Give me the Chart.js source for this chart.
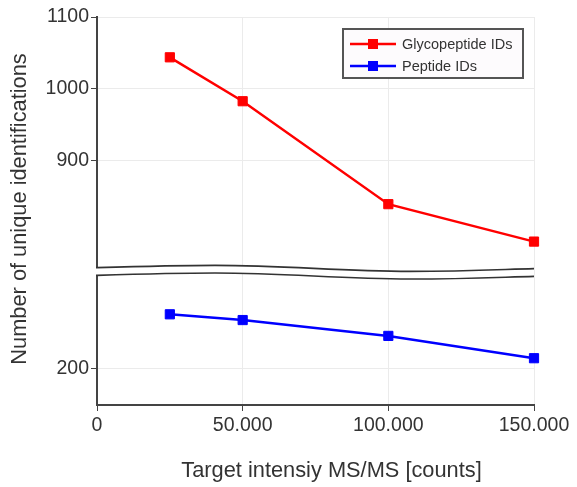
<!DOCTYPE html>
<html>
<head>
<meta charset="utf-8">
<script src="https://cdn.jsdelivr.net/npm/chart.js@4.4.1/dist/chart.umd.min.js"></script>
<style>
  body { margin: 0; background: #fff; }
  canvas { display: block; }
</style>
</head>
<body>
<canvas id="idsChart" width="577" height="487"></canvas>
<script>
// target intensity vs. number of identifications, broken y axis
const intensities = [25000, 50000, 100000, 150000];
const glycopeptideIds = [1044, 983, 840, 788];
const peptideIds = [275, 267, 245, 214];

const xTicks = [0, 50000, 100000, 150000];
const upperTicks = [900, 1000, 1100];
const lowerTicks = [200];

const seriesLabels = ['Glycopeptide IDs', 'Peptide IDs'];
const seriesColors = ['#ff0000', '#0000ff'];

const FONT = '"Liberation Sans", Arial, Helvetica, sans-serif';
const AXIS_COLOR = '#444';
const GRID_COLOR = '#ebebeb';
const TEXT_COLOR = '#333';

function formatThousands(v) {
    return String(v).replace(/\B(?=(\d{3})+(?!\d))/g, '.');
}

function toPoints(ys) {
    return intensities.map((x, i) => ({ x: x, y: ys[i] }));
}

function fixedTicks(values) {
    return function(scale) {
        scale.ticks = values.map(v => ({ value: v }));
    };
}

function yScale(min, max, weight, ticks) {
    return {
        type: 'linear',
        position: 'left',
        stack: 'ids',
        stackWeight: weight,
        min: min,
        max: max,
        afterBuildTicks: fixedTicks(ticks),
        afterFit: scale => { scale.width = 97; },
        grid: { color: GRID_COLOR, tickColor: AXIS_COLOR, tickLength: 6, lineWidth: 1 },
        border: { color: AXIS_COLOR, width: 2 },
        ticks: {
            color: TEXT_COLOR,
            padding: 2,
            font: { family: FONT, size: 19.5 },
            callback: v => String(v)
        }
    };
}

// wavy double line marking the axis break
function wavePath(ctx, left, right, y0, startX) {
    const w = right - left;
    ctx.moveTo(startX, y0 - 4.2);
    ctx.lineTo(left, y0 - 4.2);
    ctx.bezierCurveTo(left + w * 0.1, y0 - 5.5, left + w * 0.19, y0 - 6.5, left + w * 0.27, y0 - 6.5);
    ctx.bezierCurveTo(left + w * 0.44, y0 - 6.5, left + w * 0.55, y0 - 0.5, left + w * 0.717, y0 - 0.5);
    ctx.bezierCurveTo(left + w * 0.85, y0 - 0.5, left + w * 0.93, y0 - 2.5, right, y0 - 3.2);
}

const axisBreak = {
    id: 'axisBreak',
    afterDraw(chart) {
        const ctx = chart.ctx;
        const area = chart.chartArea;
        const y0 = chart.scales.yTop.bottom;
        ctx.save();
        ctx.lineCap = 'butt';
        // white band hiding the axis and grid between the two lines
        ctx.beginPath();
        wavePath(ctx, area.left, area.right, y0 + 3.85, area.left - 3);
        ctx.strokeStyle = '#fff';
        ctx.lineWidth = 7.4;
        ctx.stroke();
        ctx.strokeStyle = '#333';
        ctx.lineWidth = 1.6;
        ctx.beginPath();
        wavePath(ctx, area.left, area.right, y0, area.left - 1);
        ctx.stroke();
        ctx.beginPath();
        wavePath(ctx, area.left, area.right, y0 + 7.7, area.left - 1);
        ctx.stroke();
        ctx.restore();
    }
};

// axis titles and the boxed legend
const decorations = {
    id: 'decorations',
    afterDraw(chart) {
        const ctx = chart.ctx;
        const area = chart.chartArea;
        ctx.save();
        ctx.fillStyle = TEXT_COLOR;
        ctx.font = '21.8px ' + FONT;
        ctx.textAlign = 'center';
        ctx.textBaseline = 'middle';
        ctx.fillText('Target intensiy MS/MS [counts]', (area.left + area.right) / 2 + 16, 471);

        ctx.save();
        ctx.translate(20, (area.top + area.bottom) / 2 - 2);
        ctx.rotate(-Math.PI / 2);
        ctx.fillText('Number of unique identifications', 0, 0);
        ctx.restore();

        // legend
        const bx = 343, by = 29, bw = 180, bh = 49;
        ctx.fillStyle = '#fdfbfd';
        ctx.fillRect(bx, by, bw, bh);
        ctx.strokeStyle = '#555';
        ctx.lineWidth = 2;
        ctx.strokeRect(bx, by, bw, bh);

        ctx.font = '14.5px ' + FONT;
        ctx.textAlign = 'left';
        seriesLabels.forEach((label, i) => {
            const y = 44 + i * 22;
            ctx.strokeStyle = seriesColors[i];
            ctx.lineWidth = 2.5;
            ctx.beginPath();
            ctx.moveTo(350, y);
            ctx.lineTo(396, y);
            ctx.stroke();
            ctx.fillStyle = seriesColors[i];
            ctx.fillRect(368, y - 5, 10, 10);
            ctx.fillStyle = TEXT_COLOR;
            ctx.fillText(label, 402, y + 1);
        });
        ctx.restore();
    }
};

const ctx = document.getElementById('idsChart').getContext('2d');

const chart = new Chart(ctx, {
    type: 'line',
    data: {
        datasets: [{
            label: seriesLabels[0],
            data: toPoints(glycopeptideIds),
            yAxisID: 'yTop',
            borderColor: seriesColors[0],
            backgroundColor: seriesColors[0],
            borderWidth: 2.5,
            pointStyle: 'rect',
            pointRadius: 6.5,
            pointBorderWidth: 1,
            tension: 0,
            clip: false
        }, {
            label: seriesLabels[1],
            data: toPoints(peptideIds),
            yAxisID: 'yBottom',
            borderColor: seriesColors[1],
            backgroundColor: seriesColors[1],
            borderWidth: 2.5,
            pointStyle: 'rect',
            pointRadius: 6.5,
            pointBorderWidth: 1,
            tension: 0,
            clip: false
        }]
    },
    options: {
        responsive: false,
        animation: false,
        layout: { padding: { top: 17, right: 43, left: 0, bottom: 0 } },
        plugins: {
            legend: { display: false },
            tooltip: { enabled: false }
        },
        scales: {
            x: {
                type: 'linear',
                min: 0,
                max: 150000,
                afterBuildTicks: fixedTicks(xTicks),
                afterFit: scale => { scale.height = 82; },
                grid: { color: GRID_COLOR, tickColor: AXIS_COLOR, tickLength: 6, lineWidth: 1 },
                border: { color: AXIS_COLOR, width: 2 },
                ticks: {
                    color: TEXT_COLOR,
                    padding: 3,
                    maxRotation: 0,
                    font: { family: FONT, size: 19.5 },
                    callback: v => formatThousands(v)
                }
            },
            // left-stacked axes are laid out bottom-first
            yBottom: yScale(149, 334, 185, lowerTicks),
            yTop: yScale(746, 1100, 354, upperTicks)
        }
    },
    plugins: [axisBreak, decorations]
});
</script>
</body>
</html>
